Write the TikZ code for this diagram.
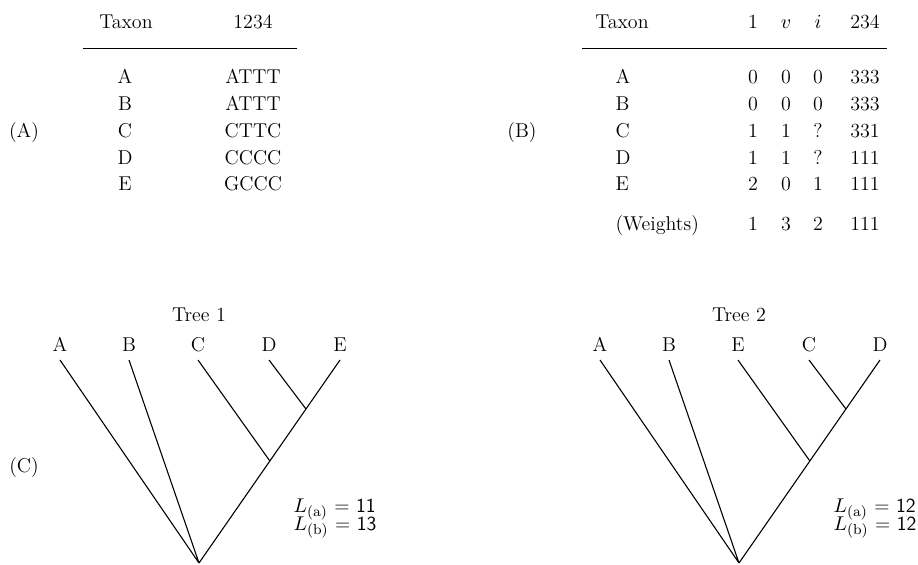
\documentclass[tikz,border=0pt]{standalone}
\usepackage{amsmath}
\usetikzlibrary{calc}
\begin{document}
\begin{tikzpicture}[x=0.55pt, y=-0.55pt, line width=0.6pt, every node/.style={inner sep=0pt, font=\fontsize{11}{13}\selectfont},
  cell/.style={anchor=base}, lcell/.style={anchor=base west}, leaf/.style={anchor=south, inner sep=4.4pt}, rule/.style={line width=0.5pt}]
\useasboundingbox (0,0) rectangle (918,565);
% (A) nucleotide table
\node[cell] (labA) at (24,138) {(A)};
\node[cell] (aTax) at (126,29) {Taxon}; \node[cell] (aPos) at (253,29) {1234};
\coordinate (aRuleL) at (83,48); \coordinate (aRuleR) at (297,48); \draw[rule] (aRuleL)--(aRuleR);
\foreach \t/\s [count=\k from 0] in {A/ATTT,B/ATTT,C/CTTC,D/CCCC,E/GCCC}
  {\node[cell] (aT\t) at (125,{84+26.75*\k}) {\t}; \node[cell] (aS\t) at (253,{84+26.75*\k}) {\s};}
% (B) recoded table
\node[cell] (labB) at (522,138) {(B)};
\node[cell] (bTax) at (622,29) {Taxon}; \node[cell] (bH1) at (753,29) {1}; \node[cell] (bHv) at (786,29) {$v$};
\node[cell] (bHi) at (818,29) {$i$}; \node[cell] (bH234) at (865,29) {234};
\coordinate (bRuleL) at (582,48); \coordinate (bRuleR) at (887,48); \draw[rule] (bRuleL)--(bRuleR);
\foreach \t/\p/\q/\r/\s [count=\k from 0] in {A/0/0/0/333,B/0/0/0/333,C/1/1/?/331,D/1/1/?/111,E/2/0/1/111}
  {\node[lcell] (bT\t) at (615,{84+26.75*\k}) {\t}; \node[cell] (bP\t) at (753,{84+26.75*\k}) {\p};
   \node[cell] (bQ\t) at (786,{84+26.75*\k}) {\q}; \node[cell] (bR\t) at (818,{84+26.75*\k}) {\r};
   \node[cell] (bS\t) at (865,{84+26.75*\k}) {\s};}
\node[lcell] (bW) at (615,230) {(Weights)}; \node[cell] (bW1) at (753,230) {1}; \node[cell] (bWv) at (786,230) {3};
\node[cell] (bWi) at (818,230) {2}; \node[cell] (bW234) at (865,230) {111};
% (C) trees
\node[cell] (labC) at (24,472) {(C)};
\node[cell] (tree1) at (199,321) {Tree 1}; \coordinate (r1) at (199,563);
\node[leaf] (A1) at (60,360) {A}; \node[leaf] (B1) at (129,360) {B}; \node[leaf] (C1) at (198,360) {C};
\node[leaf] (D1) at (269,360) {D}; \node[leaf] (E1) at (340,360) {E};
\coordinate (u1) at ($(r1)!0.5025!(E1.south)$); \coordinate (w1) at ($(r1)!0.7586!(E1.south)$);
\draw (r1)--(A1.south) (r1)--(B1.south) (r1)--(E1.south) (u1)--(C1.south) (w1)--(D1.south);
\node[lcell] (La1) at (293,512) {$L_{\mathrm{(a)}}$ \textsf{= 11}}; \node[lcell] (Lb1) at (293,530) {$L_{\mathrm{(b)}}$ \textsf{= 13}};
\node[cell] (tree2) at (739,321) {Tree 2}; \coordinate (r2) at (739,563);
\node[leaf] (A2) at (600,360) {A}; \node[leaf] (B2) at (669,360) {B}; \node[leaf] (E2) at (738,360) {E};
\node[leaf] (C2) at (809,360) {C}; \node[leaf] (D2) at (880,360) {D};
\coordinate (u2) at ($(r2)!0.5025!(D2.south)$); \coordinate (w2) at ($(r2)!0.7586!(D2.south)$);
\draw (r2)--(A2.south) (r2)--(B2.south) (r2)--(D2.south) (u2)--(E2.south) (w2)--(C2.south);
\node[lcell] (La2) at (833,512) {$L_{\mathrm{(a)}}$ \textsf{= 12}}; \node[lcell] (Lb2) at (833,530) {$L_{\mathrm{(b)}}$ \textsf{= 12}};
\end{tikzpicture}
\end{document}
